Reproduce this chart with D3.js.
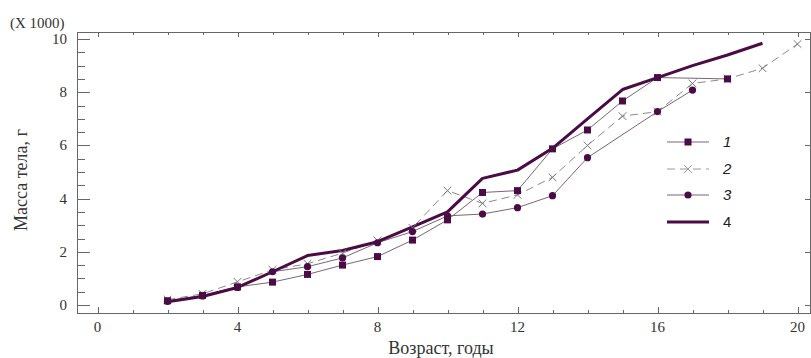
<!DOCTYPE html>
<html>
<head>
<meta charset="utf-8">
<script src="https://cdn.jsdelivr.net/npm/d3@7"></script>
<style>
  body { margin: 0; background: #fff; }
</style>
</head>
<body>
<div id="chart"></div>
<script>
// age (years) vs body mass (x1000 g)
const ages1 = [2, 3, 4, 5, 6, 7, 8, 9, 10, 11, 12, 13, 14, 15, 16, 18];
const mass1 = [0.16, 0.36, 0.68, 0.86, 1.15, 1.5, 1.82, 2.44, 3.2, 4.23, 4.3, 5.87, 6.58, 7.67, 8.55, 8.5];

const ages2 = [2, 3, 4, 5, 6, 7, 8, 9, 10, 11, 12, 13, 14, 15, 16, 17, 18, 19, 20];
const mass2 = [0.2, 0.42, 0.87, 1.32, 1.55, 1.95, 2.42, 2.9, 4.3, 3.82, 4.14, 4.8, 6.0, 7.1, 7.27, 8.33, 8.5, 8.9, 9.81];

const ages3 = [2, 3, 4, 5, 6, 7, 8, 9, 10, 11, 12, 13, 14, 16, 17];
const mass3 = [0.14, 0.34, 0.66, 1.25, 1.44, 1.77, 2.34, 2.76, 3.35, 3.42, 3.66, 4.11, 5.54, 7.27, 8.08];

const ages4 = [2, 3, 4, 5, 6, 7, 8, 9, 10, 11, 12, 13, 14, 15, 16, 17, 18, 19];
const mass4 = [0.12, 0.32, 0.66, 1.25, 1.86, 2.05, 2.38, 2.94, 3.5, 4.76, 5.07, 5.89, 7.0, 8.1, 8.55, 9.0, 9.4, 9.84];

const xTicks = [0, 4, 8, 12, 16, 20];
const yTicks = [0, 2, 4, 6, 8, 10];
const legendLabels = ['1', '2', '3', '4'];

const W = 811, H = 358;
const purple = '#4b0b45';
const serif = '"Liberation Serif", "DejaVu Serif", "Times New Roman", serif';
const sans = '"Liberation Sans", "DejaVu Sans", Arial, sans-serif';
const frame = {left: 77, right: 810, top: 32, bottom: 313};

const x = d3.scaleLinear().domain([0, 20]).range([97.5, 797.5]);
const y = d3.scaleLinear().domain([0, 10]).range([305, 39]);

const svg = d3.select('#chart').append('svg')
    .attr('width', W)
    .attr('height', H);

// frame
svg.append('rect')
    .attr('x', frame.left + 0.5)
    .attr('y', frame.top + 0.5)
    .attr('width', frame.right - frame.left)
    .attr('height', frame.bottom - frame.top)
    .attr('fill', 'none')
    .attr('stroke', '#666');

// x ticks (every year, bottom pointing up, top pointing down)
const xMinor = d3.range(0, 21);
svg.append('g').selectAll('line')
    .data(xMinor)
    .join('line')
    .attr('x1', d => Math.round(x(d)) + 0.5)
    .attr('x2', d => Math.round(x(d)) + 0.5)
    .attr('y1', frame.bottom)
    .attr('y2', d => frame.bottom - (d % 4 === 0 ? 6 : 3))
    .attr('stroke', '#666');
svg.append('g').selectAll('line')
    .data(xMinor)
    .join('line')
    .attr('x1', d => Math.round(x(d)) + 0.5)
    .attr('x2', d => Math.round(x(d)) + 0.5)
    .attr('y1', frame.top)
    .attr('y2', d => frame.top + (d % 4 === 0 ? 5 : 3))
    .attr('stroke', '#666');

svg.append('g').selectAll('text')
    .data(xTicks)
    .join('text')
    .attr('x', d => x(d))
    .attr('y', 332)
    .attr('text-anchor', 'middle')
    .attr('font-family', serif)
    .attr('font-size', 15)
    .attr('fill', '#333')
    .text(d => d);

// y ticks (major every 2, minor every 0.5)
const yMinor = d3.range(0, 10.01, 0.5);
svg.append('g').selectAll('line')
    .data(yMinor)
    .join('line')
    .attr('x1', frame.left)
    .attr('x2', d => frame.left + (d % 2 === 0 ? 13 : 8))
    .attr('y1', d => Math.round(y(d)) + 0.5)
    .attr('y2', d => Math.round(y(d)) + 0.5)
    .attr('stroke', '#666');
svg.append('g').selectAll('line')
    .data(yTicks)
    .join('line')
    .attr('x1', frame.right)
    .attr('x2', frame.right - 5)
    .attr('y1', d => Math.round(y(d)) + 0.5)
    .attr('y2', d => Math.round(y(d)) + 0.5)
    .attr('stroke', '#666');

svg.append('g').selectAll('text')
    .data(yTicks)
    .join('text')
    .attr('x', 67)
    .attr('y', d => y(d) + 5)
    .attr('text-anchor', 'end')
    .attr('font-family', serif)
    .attr('font-size', 15)
    .attr('fill', '#333')
    .text(d => d);

svg.append('text')
    .attr('x', 10)
    .attr('y', 28)
    .attr('font-family', serif)
    .attr('font-size', 15)
    .attr('fill', '#333')
    .text('(X 1000)');

svg.append('text')
    .attr('transform', 'translate(27,180) rotate(-90)')
    .attr('text-anchor', 'middle')
    .attr('font-family', serif)
    .attr('font-size', 18)
    .attr('fill', '#333')
    .text('Масса тела, г');

svg.append('text')
    .attr('x', 441)
    .attr('y', 354)
    .attr('text-anchor', 'middle')
    .attr('font-family', serif)
    .attr('font-size', 18)
    .attr('fill', '#333')
    .text('Возраст, годы');

// series
const line = d3.line().x(d => x(d[0])).y(d => y(d[1]));
const s1 = d3.zip(ages1, mass1);
const s2 = d3.zip(ages2, mass2);
const s3 = d3.zip(ages3, mass3);
const s4 = d3.zip(ages4, mass4);

const plot = svg.append('g');

plot.append('path').datum(s2)
    .attr('d', line).attr('fill', 'none')
    .attr('stroke', '#8a8a8a').attr('stroke-width', 1)
    .attr('stroke-dasharray', '8,5');
plot.append('path').datum(s3)
    .attr('d', line).attr('fill', 'none')
    .attr('stroke', '#7a6577').attr('stroke-width', 1);
plot.append('path').datum(s1)
    .attr('d', line).attr('fill', 'none')
    .attr('stroke', '#7a6577').attr('stroke-width', 1);
plot.append('path').datum(s4)
    .attr('d', line).attr('fill', 'none')
    .attr('stroke', purple).attr('stroke-width', 3)
    .attr('stroke-linejoin', 'round');

const cross = d3.symbol().type(d3.symbolX).size(40);

plot.append('g').selectAll('path')
    .data(s2)
    .join('path')
    .attr('transform', d => `translate(${x(d[0])},${y(d[1])})`)
    .attr('d', cross)
    .attr('fill', 'none')
    .attr('stroke', '#777');

plot.append('g').selectAll('rect')
    .data(s1)
    .join('rect')
    .attr('x', d => x(d[0]) - 3.5)
    .attr('y', d => y(d[1]) - 3.5)
    .attr('width', 7)
    .attr('height', 7)
    .attr('fill', purple);

plot.append('g').selectAll('circle')
    .data(s3)
    .join('circle')
    .attr('cx', d => x(d[0]))
    .attr('cy', d => y(d[1]))
    .attr('r', 3.6)
    .attr('fill', purple);

// legend
const legend = svg.append('g');
const rowY = [142, 169, 195, 222];
const lx0 = 667, lx1 = 709, lmid = 688;

legendLabels.forEach((lab, i) => {
    const g = legend.append('g').attr('transform', `translate(0,${rowY[i]})`);
    const ln = g.append('line')
        .attr('x1', lx0).attr('x2', lx1).attr('y1', 0).attr('y2', 0);
    if (i === 0 || i === 2) ln.attr('stroke', '#7a6577').attr('stroke-width', 1);
    if (i === 1) ln.attr('stroke', '#999').attr('stroke-dasharray', '8,5').attr('stroke-width', 1);
    if (i === 3) ln.attr('stroke', purple).attr('stroke-width', 3);
    if (i === 0) g.append('rect').attr('x', lmid - 3.5).attr('y', -3.5).attr('width', 7).attr('height', 7).attr('fill', purple);
    if (i === 1) g.append('path').attr('transform', `translate(${lmid},0)`).attr('d', cross).attr('fill', 'none').attr('stroke', '#999');
    if (i === 2) g.append('circle').attr('cx', lmid).attr('cy', 0).attr('r', 3.6).attr('fill', purple);
    g.append('text')
        .attr('x', 723)
        .attr('y', 5)
        .attr('font-family', sans)
        .attr('font-size', 15)
        .attr('font-style', i === 3 ? 'normal' : 'italic')
        .attr('fill', '#222')
        .text(lab);
});
</script>
</body>
</html>
